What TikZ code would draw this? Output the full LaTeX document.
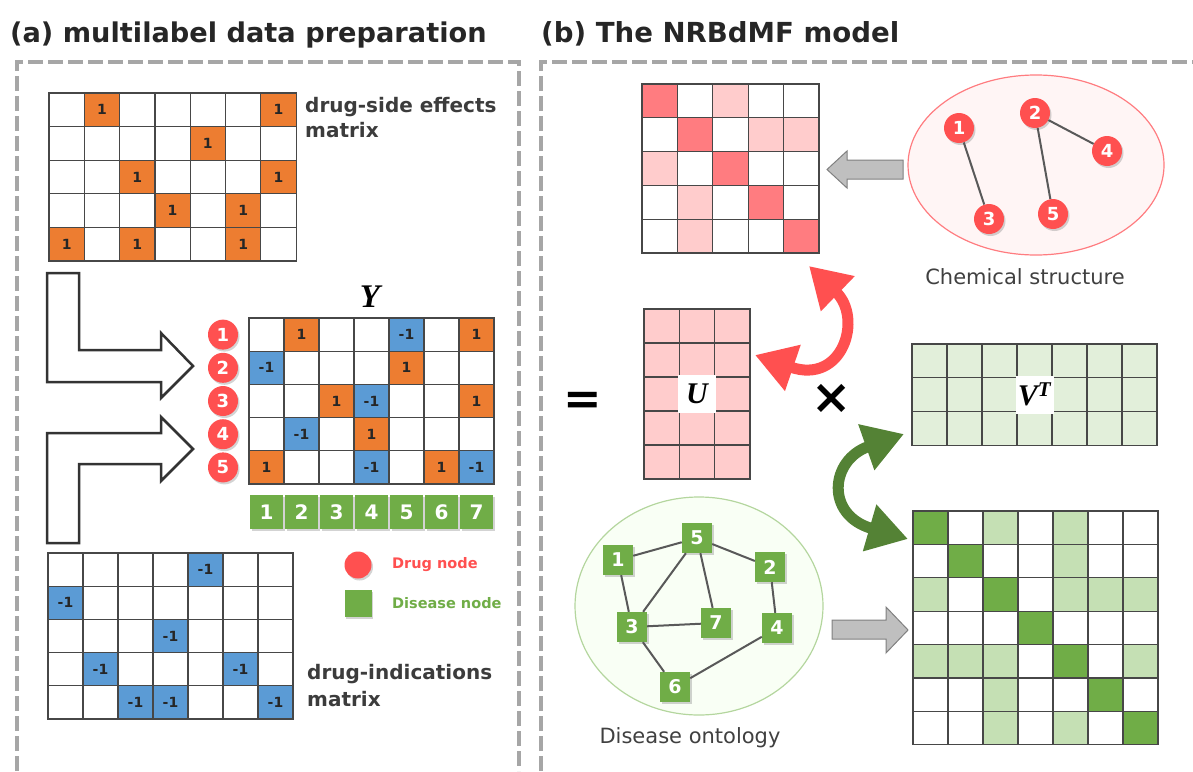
\documentclass[tikz,border=0pt]{standalone}
\usepackage{fontspec}
\setmainfont{DejaVu Sans}
\newfontfamily\lserif{Liberation Serif}
\usetikzlibrary{arrows.meta,shadows}
\definecolor{ora}{HTML}{ED7D31}
\definecolor{blu}{HTML}{5B9BD5}
\definecolor{grn}{HTML}{70AD47}
\definecolor{dgrn}{HTML}{548235}
\definecolor{lgrn}{HTML}{C5E0B4}
\definecolor{vlgrn}{HTML}{E2EFDA}
\definecolor{drugred}{HTML}{FF5050}
\definecolor{pinkD}{HTML}{FF7C80}
\definecolor{pinkL}{HTML}{FFCCCC}
\definecolor{arrowgray}{HTML}{BFBFBF}
\definecolor{dashgray}{HTML}{A6A6A6}
\definecolor{txt}{HTML}{262626}
\newcommand{\tcell}[5]{\fill[#4] ({#2-1},{#3-1}) rectangle (#2,#3); \node[celltxt] (#1) at ({#2-0.5},{#3-0.5}) {#5};}
\newcommand{\fcell}[3]{\fill[#3] ({#1-1},{#2-1}) rectangle (#1,#2);}
\newcommand{\mgrid}[2]{\foreach \i in {0,...,#1} {\draw[gridl] (\i,0) -- (\i,#2);} \foreach \j in {0,...,#2} {\draw[gridl] (0,\j) -- (#1,\j);}}
\begin{document}
\begin{tikzpicture}[x=1pt,y=-1pt,
  title/.style={font=\fontsize{27.2}{30}\selectfont\bfseries, text=txt, anchor=base west, inner sep=0},
  lbl/.style={font=\fontsize{20}{24}\selectfont\bfseries, text=txt!90, anchor=base west, inner sep=0},
  celltxt/.style={font=\fontsize{14}{16}\selectfont\bfseries, text=txt, inner sep=0},
  shd/.style={drop shadow={shadow xshift=1.5pt, shadow yshift=-2pt, opacity=0.35}},
  drug/.style={circle, fill=drugred, text=white, minimum size=30pt, inner sep=0, font=\fontsize{18}{20}\selectfont\bfseries, shd},
  dis/.style={rectangle, fill=grn, text=white, minimum size=30pt, inner sep=0, font=\fontsize{19}{21}\selectfont\bfseries, shd},
  colsq/.style={dis, minimum width=33pt, minimum height=34pt, font=\fontsize{20}{22}\selectfont\bfseries},
  gridl/.style={draw=black!72, line width=1.2pt, line cap=rect},
  dashbox/.style={draw=dashgray, line width=4.5pt, dash pattern=on 15pt off 5pt},
  hollow/.style={draw=black!80, fill=white, line width=2.5pt, line join=miter},
  grayarrow/.style={fill=arrowgray, draw=black!50, line width=1pt},
  bigcurve/.style={line width=11pt, {Triangle[length=40pt,width=46pt]}-{Triangle[length=40pt,width=46pt]}},
  caption/.style={font=\fontsize{21}{24}\selectfont, text=black!75, inner sep=0},
  link/.style={draw=black!65, line width=2pt},
  legtxt/.style={font=\fontsize{14.5}{16}\selectfont\bfseries, anchor=west, inner sep=0},
  mlabel/.style={fill=white, minimum size=38pt, inner sep=0, font=\lserif\fontsize{30}{32}\selectfont\bfseries\itshape}
]
\useasboundingbox (0,0) rectangle (1193,771);

% dashed frames
\draw[dashbox] (17,771) -- (17,62) -- (519,62) -- (519,771);
\draw[dashbox] (541,771) -- (541,62) -- (1200,62);

% titles
\node[title] (ta) at (10,42) {(a) multilabel data preparation};
\node[title, font=\fontsize{27.6}{30}\selectfont\bfseries] (tb) at (541,42) {(b) The NRBdMF model};

% drug-side effects matrix
\begin{scope}[shift={(49,93)}, x=35.3pt, y=-33.6pt]
\tcell{s1}{2}{1}{ora}{1} \tcell{s2}{7}{1}{ora}{1} \tcell{s3}{5}{2}{ora}{1}
\tcell{s4}{3}{3}{ora}{1} \tcell{s5}{7}{3}{ora}{1} \tcell{s6}{4}{4}{ora}{1}
\tcell{s7}{6}{4}{ora}{1} \tcell{s8}{1}{5}{ora}{1} \tcell{s9}{3}{5}{ora}{1}
\tcell{s10}{6}{5}{ora}{1}
\mgrid{7}{5}
\end{scope}
\node[lbl] (sl1) at (305,112) {drug-side effects};
\node[lbl] (sl2) at (305,137) {matrix};

% hollow arrows
\draw[hollow] (47,273) -- (79,273) -- (79,350) -- (161,350) -- (161,333) -- (193,366) -- (161,398) -- (161,382) -- (47,382) -- cycle;
\draw[hollow] (47,543) -- (47,433) -- (161,433) -- (161,417) -- (193,449) -- (161,481) -- (161,464) -- (79,464) -- (79,543) -- cycle;

% Y matrix
\node[font=\lserif\fontsize{33}{35}\selectfont\bfseries\itshape, inner sep=0] (ylab) at (370,297) {Y};
\begin{scope}[shift={(249,318)}, x=35pt, y=-33.2pt]
\tcell{y1}{2}{1}{ora}{1} \tcell{y2}{5}{1}{blu}{-1} \tcell{y3}{7}{1}{ora}{1}
\tcell{y4}{1}{2}{blu}{-1} \tcell{y5}{5}{2}{ora}{1}
\tcell{y6}{3}{3}{ora}{1} \tcell{y7}{4}{3}{blu}{-1} \tcell{y8}{7}{3}{ora}{1}
\tcell{y9}{2}{4}{blu}{-1} \tcell{y10}{4}{4}{ora}{1}
\tcell{y11}{1}{5}{ora}{1} \tcell{y12}{4}{5}{blu}{-1} \tcell{y13}{6}{5}{ora}{1} \tcell{y14}{7}{5}{blu}{-1}
\mgrid{7}{5}
\end{scope}
\foreach \k/\yy in {1/334.6,2/367.8,3/401,4/434.2,5/467.4}
  \node[drug] (r\k) at (223,\yy) {\k};
\foreach \k in {1,...,7}
  \node[colsq] (col\k) at ({249+35*(\k-0.5)},512) {\k};

% legend
\node[drug, minimum size=27pt] (legd) at (358,565) {};
\node[legtxt, text=drugred] (legdt) at (392,565) {Drug node};
\node[dis, minimum size=27pt] (legs) at (358,603) {};
\node[legtxt, text=grn] (legst) at (392,603) {Disease node};

% drug-indications matrix
\begin{scope}[shift={(48,553)}, x=35pt, y=-33.2pt]
\tcell{i1}{5}{1}{blu}{-1} \tcell{i2}{1}{2}{blu}{-1} \tcell{i3}{4}{3}{blu}{-1}
\tcell{i4}{2}{4}{blu}{-1} \tcell{i5}{6}{4}{blu}{-1}
\tcell{i6}{3}{5}{blu}{-1} \tcell{i7}{4}{5}{blu}{-1} \tcell{i8}{7}{5}{blu}{-1}
\mgrid{7}{5}
\end{scope}
\node[lbl] (il1) at (307,679) {drug-indications};
\node[lbl] (il2) at (307,706) {matrix};

% ---- right panel ----
% pink similarity matrix
\begin{scope}[shift={(642,84)}, x=35.4pt, y=-33.8pt]
\fcell{1}{1}{pinkD} \fcell{2}{2}{pinkD} \fcell{3}{3}{pinkD} \fcell{4}{4}{pinkD} \fcell{5}{5}{pinkD}
\fcell{3}{1}{pinkL} \fcell{4}{2}{pinkL} \fcell{5}{2}{pinkL} \fcell{1}{3}{pinkL} \fcell{2}{4}{pinkL} \fcell{2}{5}{pinkL}
\mgrid{5}{5}
\end{scope}

% chemical structure
\draw[fill=red!4, draw=pinkD, line width=1.2pt] (1036,165) ellipse [x radius=128pt, y radius=90pt];
\node[drug] (c1) at (959,128) {1};
\node[drug] (c2) at (1035,113) {2};
\node[drug] (c3) at (989,219) {3};
\node[drug] (c4) at (1107,151) {4};
\node[drug] (c5) at (1053,214) {5};
\draw[link] (c1) -- (c3);
\draw[link] (c2) -- (c5);
\draw[link] (c2) -- (c4);
\node[caption] (chem) at (1025,277) {Chemical structure};
\draw[grayarrow] (903,160) -- (847,160) -- (847,151) -- (827,169.5) -- (847,188) -- (847,179) -- (903,179) -- cycle;

% equals and U
\node[font=\fontsize{46}{48}\selectfont\bfseries, inner sep=0] (eq) at (583,403) {=};
\begin{scope}[shift={(644,309)}, x=35.3pt, y=-34pt]
\fill[pinkL] (0,0) rectangle (3,5);
\mgrid{3}{5}
\node[mlabel] (ulab) at (1.5,2.5) {U};
\end{scope}
\node[font=\fontsize{48}{50}\selectfont\bfseries, inner sep=0] (times) at (832,399) {×};

% V^T
\begin{scope}[shift={(912,344)}, x=35pt, y=-33.7pt]
\fill[vlgrn] (0,0) rectangle (7,3);
\mgrid{7}{3}
\node[mlabel] (vlab) at (3.5,1.5) {V\textsuperscript{T}};
\end{scope}

% curved arrows
\coordinate (ra) at (809,266);
\coordinate (rb) at (755,355);
\draw[bigcurve, drugred] (ra) .. controls (863,318) and (843,385) .. (rb);
\coordinate (ga) at (904,434);
\coordinate (gb) at (908,539);
\draw[bigcurve, dgrn] (ga) .. controls (830,460) and (825,515) .. (gb);

% disease ontology
\draw[fill=green!50!lime!4, draw=lgrn!80!grn, line width=1.2pt] (699,606) ellipse [x radius=124pt, y radius=109pt];
\node[dis] (d1) at (618,560) {1};
\node[dis] (d5) at (697,538) {5};
\node[dis] (d2) at (770,567) {2};
\node[dis] (d3) at (632,627) {3};
\node[dis] (d7) at (716,623) {7};
\node[dis] (d4) at (777,628) {4};
\node[dis] (d6) at (675,687) {6};
\draw[link] (d1) -- (d5);
\draw[link] (d1) -- (d3);
\draw[link] (d5) -- (d3);
\draw[link] (d5) -- (d7);
\draw[link] (d5) -- (d2);
\draw[link] (d2) -- (d4);
\draw[link] (d3) -- (d7);
\draw[link] (d3) -- (d6);
\draw[link] (d6) -- (d4);
\node[caption] (onto) at (690,738) {Disease ontology};
\draw[grayarrow] (832,620) -- (886,620) -- (886,607) -- (908,630) -- (886,653) -- (886,639) -- (832,639) -- cycle;

% green similarity matrix
\begin{scope}[shift={(913,511)}, x=35pt, y=-33.4pt]
\foreach \k in {1,...,7} {\fcell{\k}{\k}{grn}}
\fcell{3}{1}{lgrn} \fcell{5}{1}{lgrn} \fcell{5}{2}{lgrn}
\fcell{1}{3}{lgrn} \fcell{5}{3}{lgrn} \fcell{6}{3}{lgrn} \fcell{7}{3}{lgrn}
\fcell{1}{5}{lgrn} \fcell{2}{5}{lgrn} \fcell{3}{5}{lgrn} \fcell{7}{5}{lgrn}
\fcell{3}{6}{lgrn} \fcell{3}{7}{lgrn} \fcell{5}{7}{lgrn}
\mgrid{7}{7}
\end{scope}
\end{tikzpicture}
\end{document}
